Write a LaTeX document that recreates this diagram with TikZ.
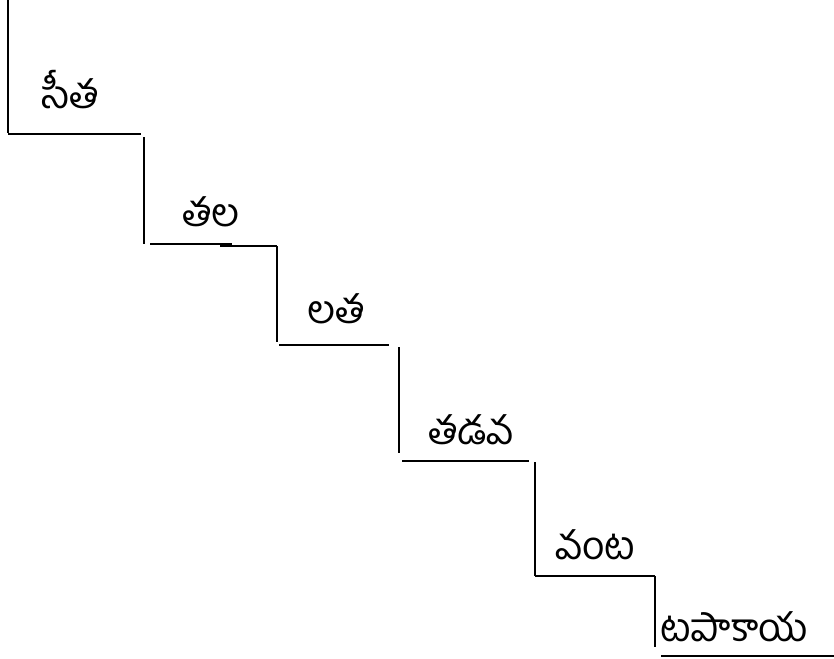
\documentclass[tikz,border=0pt]{standalone}
\usepackage{fontspec}
\newfontfamily\telugufont[Script=Telugu]{Hind Guntur}
\tikzset{word/.style={font=\telugufont\fontsize{39}{44}\selectfont,inner sep=0pt,text depth=0pt,anchor=base west}}
\begin{document}
\begin{tikzpicture}[x=1pt,y=-1pt,line width=2pt]
		\useasboundingbox (0,0) rectangle (834,658);
		% steps
		\draw (8,0) -- (8,133);
		\draw (8,134) -- (141,134);
		\draw (144,137) -- (144,244);
		\draw (150,244) -- (232,244);
		\draw (220,246) -- (277,246);
		\draw (277,246) -- (277,342);
		\draw (279,345) -- (389,345);
		\draw (399,347) -- (399,453);
		\draw (402,461) -- (529,461);
		\draw (535,462) -- (535,576);
		\draw (535,576) -- (655,576);
		\draw (655,576) -- (655,647);
		\draw (661,656) -- (834,656);
		% words
		\node[word](sita) at (41,109){సీత};
		\node[word](tala) at (181,226){తల};
		\node[word](lata) at (306,323){లత};
		\node[word](tadava) at (427,444){తడవ};
		\node[word](vanta) at (554,559){వంట};
		\node[word](tapakaya) at (659,641){టపాకాయ};
\end{tikzpicture}
\end{document}
